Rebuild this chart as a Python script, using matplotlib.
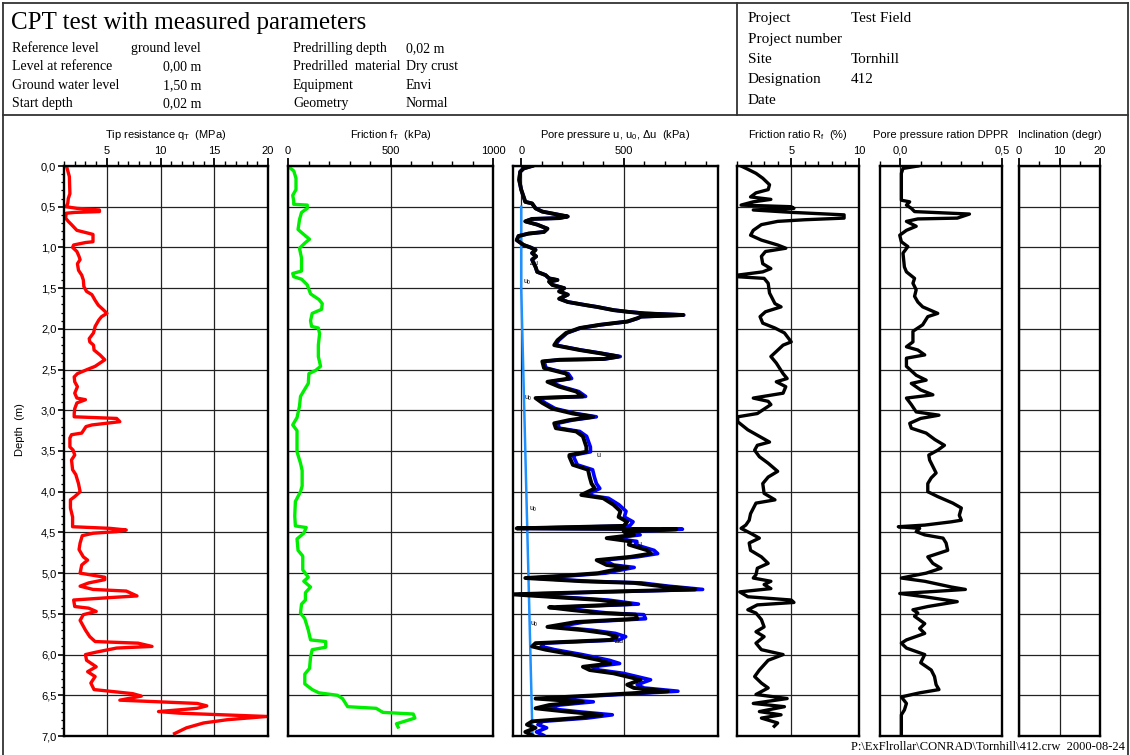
import numpy as np
import matplotlib
matplotlib.use("Agg")
import matplotlib.pyplot as plt
from matplotlib.lines import Line2D
from matplotlib.ticker import MultipleLocator, FixedLocator, FuncFormatter

plt.rcParams['font.family'] = ['Liberation Sans', 'DejaVu Sans']
plt.rcParams['mathtext.fontset'] = 'custom'
plt.rcParams['mathtext.rm'] = 'Liberation Sans'
plt.rcParams['mathtext.it'] = 'Liberation Sans:italic'
plt.rcParams['mathtext.bf'] = 'Liberation Sans:bold'

# ---------------- header data ----------------
title = "CPT test with measured parameters"
info_labels_1 = ["Reference level", "Level at reference", "Ground water level", "Start depth"]
info_values_1 = ["ground level", "0,00 m", "1,50 m", "0,02 m"]
info_labels_2 = ["Predrilling depth", "Predrilled  material", "Equipment", "Geometry"]
info_values_2 = ["0,02 m", "Dry crust", "Envi", "Normal"]
proj_labels = ["Project", "Project number", "Site", "Designation", "Date"]
proj_values = ["Test Field", "", "Tornhill", "412", ""]
footer = "P:\\ExFlrollar\\CONRAD\\Tornhill\\412.crw  2000-08-24"

# ---------------- measured profiles (depth m, value) ----------------
tip_qt = [(0.01,1.25),(0.13,1.5),(0.34,1.55),(0.40,1.4),(0.46,1.35),(0.50,1.2),(0.52,2.2),(0.54,4.3),(0.56,4.3),
          (0.57,2.0),(0.58,1.2),(0.64,1.15),(0.68,1.4),(0.72,1.7),(0.79,2.2),(0.82,3.1),(0.84,3.7),(0.93,3.7),
          (0.94,3.0),(0.97,1.9),(1.00,1.8),(1.05,2.2),(1.11,2.4),(1.15,2.5),(1.20,2.25),(1.28,2.35),(1.34,2.65),
          (1.40,2.8),(1.48,2.85),(1.54,3.1),(1.58,3.6),(1.65,3.9),(1.71,4.2),(1.77,4.7),(1.81,5.0),(1.85,4.5),
          (1.89,4.25),(1.97,3.9),(2.05,3.75),(2.12,3.35),(2.16,3.4),(2.20,3.75),(2.26,3.8),(2.32,4.35),(2.38,4.8),
          (2.42,4.35),(2.46,3.9),(2.50,3.15),(2.55,2.25),(2.59,1.95),(2.65,2.0),(2.71,2.25),(2.79,2.0),(2.85,2.2),
          (2.87,3.0),(2.91,2.2),(2.98,2.0),(3.04,1.95),(3.08,1.95),(3.10,5.9),(3.14,6.2),(3.18,3.6),(3.20,3.05),
          (3.28,2.65),(3.30,1.7),(3.34,1.55),(3.45,1.55),(3.49,1.85),(3.55,2.0),(3.61,1.7),(3.73,1.8),(3.79,2.1),
          (3.90,2.35),(4.00,2.5),(4.06,2.0),(4.10,1.6),(4.20,1.6),(4.31,1.8),(4.43,1.8),(4.45,5.3),(4.47,6.8),
          (4.49,5.9),(4.51,3.7),(4.54,2.7),(4.63,2.5),(4.71,2.4),(4.80,2.8),(4.84,3.2),(4.90,2.65),(5.00,2.5),
          (5.05,4.8),(5.08,4.8),(5.12,3.3),(5.16,2.5),(5.20,3.7),(5.22,6.8),(5.28,7.8),(5.30,5.3),(5.33,1.9),
          (5.41,2.0),(5.43,3.3),(5.47,4.0),(5.51,2.8),(5.58,2.5),(5.70,3.0),(5.78,3.4),(5.84,3.9),(5.86,7.9),
          (5.90,9.2),(5.92,5.9),(5.97,4.0),(6.00,3.0),(6.07,3.1),(6.15,4.0),(6.21,3.2),(6.27,3.9),(6.35,3.5),
          (6.43,3.8),(6.48,7.4),(6.51,8.2),(6.56,6.2),(6.60,13.4),(6.63,14.3),(6.66,13.4),(6.70,9.8),(6.72,11.8),
          (6.76,19.9),(6.80,16.2),(6.84,14.0),(6.90,12.4),(6.97,11.3)]

friction_ft = [(0.01,3),(0.06,28),(0.15,39),(0.29,39),(0.36,23),(0.43,28),(0.47,28),(0.48,94),(0.52,94),(0.57,66),
               (0.66,56),(0.78,49),(0.83,72),(0.90,105),(0.94,85),(1.01,56),(1.13,66),(1.29,66),(1.32,23),(1.36,28),
               (1.39,66),(1.46,94),(1.57,110),(1.64,151),(1.69,167),(1.76,164),(1.81,118),(1.90,110),(1.97,115),
               (1.99,148),(2.06,154),(2.20,148),(2.34,148),(2.46,159),(2.51,135),(2.55,102),(2.67,99),(2.74,82),
               (2.83,61),(2.95,56),(3.09,44),(3.18,23),(3.25,44),(3.37,44),(3.51,44),(3.65,61),(3.74,69),(3.93,69),
               (4.00,61),(4.12,36),(4.30,33),(4.42,36),(4.44,89),(4.51,77),(4.58,44),(4.72,49),(4.79,72),(4.96,72),
               (5.05,99),(5.10,77),(5.17,110),(5.24,85),(5.33,85),(5.38,66),(5.49,61),(5.56,82),(5.70,99),(5.82,110),
               (5.84,184),(5.91,184),(5.94,118),(6.03,110),(6.17,105),(6.24,82),(6.36,82),(6.43,118),(6.47,151),
               (6.50,241),(6.54,266),(6.64,291),(6.66,430),(6.71,463),(6.73,611),(6.78,619),(6.85,529),(6.89,537)]

excess_pore_du = [(0.00,53),(0.03,12),(0.07,-5),(0.17,-10),(0.29,0),(0.38,12),(0.44,20),(0.46,53),(0.52,70),
                  (0.56,103),(0.60,185),(0.62,227),(0.64,185),(0.65,53),(0.68,20),(0.72,78),(0.77,128),(0.81,111),
                  (0.83,36),(0.86,-13),(0.91,-22),(0.97,12),(1.00,45),(1.03,70),(1.07,53),(1.11,73),(1.15,53),
                  (1.24,70),(1.30,78),(1.34,119),(1.38,136),(1.40,177),(1.42,136),(1.46,152),(1.50,210),(1.54,185),
                  (1.58,227),(1.63,185),(1.67,227),(1.71,318),(1.73,368),(1.77,450),(1.79,517),(1.81,600),(1.83,790),
                  (1.85,583),(1.87,566),(1.91,517),(1.95,384),(1.99,285),(2.05,219),(2.14,177),(2.20,161),(2.26,285),
                  (2.30,384),(2.34,475),(2.37,400),(2.38,185),(2.40,103),(2.48,111),(2.55,219),(2.61,235),(2.65,128),
                  (2.71,185),(2.77,268),(2.83,301),(2.85,70),(2.91,103),(2.98,152),(3.04,252),(3.08,351),(3.12,235),
                  (3.16,161),(3.22,169),(3.26,268),(3.32,301),(3.39,310),(3.45,318),(3.51,318),(3.55,235),(3.57,235),
                  (3.67,252),(3.73,326),(3.82,334),(3.90,343),(3.96,359),(4.04,293),(4.08,400),(4.16,450),(4.24,484),
                  (4.31,475),(4.37,517),(4.42,500),(4.45,-22),(4.46,757),(4.49,500),(4.53,550),(4.57,417),(4.61,533),
                  (4.65,525),(4.72,616),(4.76,633),(4.80,533),(4.84,368),(4.90,417),(4.93,517),(4.97,434),(5.00,376),
                  (5.03,219),(5.06,20),(5.10,301),(5.12,550),(5.16,682),(5.20,848),(5.23,384),(5.26,-46),(5.29,136),
                  (5.33,384),(5.38,533),(5.42,136),(5.45,235),(5.49,384),(5.51,558),(5.56,566),(5.60,268),(5.66,128),
                  (5.70,301),(5.74,417),(5.78,467),(5.82,434),(5.86,70),(5.90,53),(5.94,119),(6.00,252),(6.07,384),
                  (6.11,434),(6.15,301),(6.19,334),(6.23,450),(6.27,517),(6.31,583),(6.37,517),(6.41,550),(6.45,715),
                  (6.49,434),(6.54,70),(6.58,301),(6.62,136),(6.66,70),(6.70,219),(6.74,392),(6.78,268),(6.82,53),
                  (6.86,28),(6.90,70),(6.95,20),(6.99,53)]

hydrostatic_u0 = [(0.5,0),(1.5,0),(7.0,55)]

friction_ratio_rf = [(0.00,1.3),(0.04,1.8),(0.09,2.4),(0.15,2.9),(0.23,3.4),(0.29,3.3),(0.33,2.4),(0.38,2.0),(0.41,3.5),
                     (0.44,2.2),(0.48,1.3),(0.50,5.0),(0.52,5.2),(0.54,2.2),(0.57,5.1),(0.60,8.9),(0.64,8.9),(0.66,6.0),
                     (0.68,4.0),(0.72,2.8),(0.79,2.2),(0.85,2.0),(0.91,2.8),(0.97,4.0),(1.01,4.6),(1.05,3.1),(1.11,2.8),
                     (1.20,2.9),(1.26,3.5),(1.30,2.9),(1.34,1.05),(1.36,1.05),(1.38,3.0),(1.44,3.3),(1.56,3.4),(1.69,3.8),
                     (1.73,4.25),(1.79,3.1),(1.85,2.7),(1.93,2.9),(1.99,3.8),(2.05,4.5),(2.16,5.0),(2.20,4.4),(2.34,3.5),
                     (2.42,3.9),(2.55,4.4),(2.61,4.7),(2.65,3.9),(2.71,4.6),(2.79,4.4),(2.85,2.2),(2.89,3.3),(2.93,3.5),
                     (3.04,2.5),(3.08,1.05),(3.14,1.05),(3.24,1.8),(3.32,2.65),(3.39,3.4),(3.43,2.5),(3.49,2.3),(3.57,2.65),
                     (3.65,3.3),(3.75,4.0),(3.82,3.3),(3.90,2.9),(4.02,3.0),(4.10,3.8),(4.14,2.4),(4.27,2.0),(4.35,1.9),
                     (4.41,1.65),(4.45,1.3),(4.51,2.0),(4.57,2.65),(4.63,1.9),(4.72,2.0),(4.80,2.8),(4.88,3.3),(4.94,2.5),
                     (5.02,2.4),(5.06,2.2),(5.10,3.5),(5.14,3.0),(5.19,3.5),(5.23,1.2),(5.29,1.8),(5.33,5.0),(5.36,5.2),
                     (5.39,2.5),(5.45,1.8),(5.49,2.4),(5.57,2.8),(5.66,3.0),(5.72,2.4),(5.78,3.0),(5.86,2.4),(5.94,2.8),
                     (6.00,4.4),(6.07,3.3),(6.19,2.65),(6.27,2.3),(6.35,2.8),(6.41,3.3),(6.49,2.4),(6.54,4.7),(6.60,2.2),
                     (6.64,4.5),(6.70,2.65),(6.74,4.25),(6.78,2.8),(6.84,4.0),(6.88,3.75)]

dppr = [(0.00,0.086),(0.03,0.013),(0.09,0.005),(0.25,0.005),(0.42,0.005),(0.44,0.046),(0.48,0.03),(0.52,0.054),
        (0.56,0.07),(0.59,0.34),(0.64,0.28),(0.65,0.086),(0.68,0.03),(0.74,0.078),(0.79,0.03),(0.85,-0.003),
        (0.93,0.005),(0.99,0.037),(1.07,0.013),(1.24,0.02),(1.30,0.03),(1.38,0.07),(1.44,0.062),(1.52,0.078),
        (1.60,0.07),(1.67,0.086),(1.73,0.11),(1.81,0.184),(1.85,0.135),(1.95,0.11),(2.03,0.062),(2.16,0.062),
        (2.22,0.03),(2.26,0.086),(2.32,0.12),(2.36,0.03),(2.46,0.03),(2.57,0.078),(2.63,0.127),(2.67,0.054),
        (2.75,0.1),(2.81,0.16),(2.85,0.03),(2.93,0.054),(3.02,0.078),(3.06,0.19),(3.10,0.1),(3.16,0.046),
        (3.22,0.054),(3.28,0.127),(3.36,0.17),(3.43,0.217),(3.49,0.184),(3.55,0.14),(3.61,0.144),(3.69,0.16),
        (3.77,0.176),(3.83,0.152),(3.90,0.135),(4.00,0.135),(4.06,0.184),(4.14,0.258),(4.20,0.3),(4.29,0.29),
        (4.35,0.3),(4.37,0.25),(4.41,0.12),(4.43,-0.01),(4.45,0.095),(4.49,0.078),(4.53,0.12),(4.57,0.21),
        (4.63,0.225),(4.72,0.233),(4.80,0.135),(4.88,0.16),(4.94,0.2),(5.00,0.127),(5.06,0.005),(5.10,0.12),
        (5.17,0.25),(5.20,0.32),(5.23,0.135),(5.25,-0.003),(5.29,0.12),(5.35,0.28),(5.41,0.135),(5.45,0.062),
        (5.49,0.086),(5.53,0.07),(5.62,0.12),(5.68,0.095),(5.74,0.12),(5.82,0.03),(5.86,0.005),(5.92,0.03),
        (6.00,0.12),(6.10,0.1),(6.19,0.152),(6.27,0.168),(6.37,0.176),(6.43,0.19),(6.47,0.095),(6.52,0.005),
        (6.60,0.03),(6.68,0.02),(6.74,0.005),(7.00,0.005)]

# curve labels in the pore pressure panel: (text, value kPa, depth m)
pore_labels = [(r"$\Delta$u", 40, 1.19), ("u$_0$", 10, 1.43), ("u$_0$", 15, 2.85), ("u", 365, 3.55),
               ("u$_0$", 40, 4.22), ("u", 565, 4.65), ("u$_0$", 45, 5.63), (r"$\Delta$u", 455, 5.83)]

# ---------------- figure ----------------
W, H = 1130, 755
fig = plt.figure(figsize=(W/100, H/100), dpi=100)
fig.patch.set_facecolor('white')

def fx(x): return x / W
def fy(y): return 1 - y / H

# frame and header lines
line_kw = dict(transform=fig.transFigure, color='#333333', lw=1.3)
fig.add_artist(Line2D([fx(3), fx(3)], [fy(3), fy(755)], **line_kw))
fig.add_artist(Line2D([fx(1128), fx(1128)], [fy(3), fy(755)], **line_kw))
fig.add_artist(Line2D([fx(3), fx(1128)], [fy(3), fy(3)], **line_kw))
fig.add_artist(Line2D([fx(3), fx(1128)], [fy(115), fy(115)], **line_kw))
fig.add_artist(Line2D([fx(737), fx(737)], [fy(3), fy(115)], **line_kw))

serif = ['Liberation Serif', 'DejaVu Serif']
fig.text(fx(11), fy(29), title, family=serif, fontsize=18, va='baseline', ha='left')
rows_base = [52, 70, 89, 107]
for lab, val, yy in zip(info_labels_1, info_values_1, rows_base):
    fig.text(fx(12), fy(yy), lab, family=serif, fontsize=10, va='baseline')
    fig.text(fx(201), fy(yy), val, family=serif, fontsize=10, va='baseline', ha='right')
for lab, val, yy in zip(info_labels_2, info_values_2, rows_base):
    fig.text(fx(293), fy(yy), lab, family=serif, fontsize=10, va='baseline')
    fig.text(fx(406), fy(yy), val, family=serif, fontsize=10, va='baseline')
for lab, val, yy in zip(proj_labels, proj_values, [22, 43, 63, 83, 104]):
    fig.text(fx(748), fy(yy), lab, family=serif, fontsize=11, va='baseline')
    fig.text(fx(851), fy(yy), val, family=serif, fontsize=11, va='baseline')
fig.text(fx(851), fy(753), footer, family=serif, fontsize=9, va='bottom', ha='left')

fig.text(fx(20), fy(430), "Depth  (m)", rotation=90, fontsize=8, ha='center', va='center')

TOP, BOT = 166, 736

def comma1(v, p):
    return f"{v:.1f}".replace('.', ',')

def intfmt(v, p):
    return f"{v:.0f}"

def make_panel(l, r, xlim, major, minor, fmt, label):
    ax = fig.add_axes([fx(l), fy(BOT), (r - l) / W, (BOT - TOP) / H])
    ax.set_xlim(*xlim)
    ax.set_ylim(7.0, 0.0)
    ax.xaxis.tick_top()
    ax.xaxis.set_major_locator(FixedLocator(major))
    ax.xaxis.set_minor_locator(MultipleLocator(minor))
    ax.xaxis.set_major_formatter(FuncFormatter(fmt))
    ax.yaxis.set_major_locator(MultipleLocator(0.5))
    ax.yaxis.set_minor_locator(MultipleLocator(0.1))
    ax.tick_params(axis='x', which='major', length=6, width=1.3, pad=1.5, labelsize=8, direction='out')
    ax.tick_params(axis='x', which='minor', length=3.5, width=1.0, direction='out')
    ax.tick_params(axis='y', which='both', left=False, right=False, labelleft=False)
    ax.grid(True, which='major', color='#222222', lw=0.9)
    for s in ax.spines.values():
        s.set_linewidth(1.7)
    ax.text(0.5, 1 + 31 / (BOT - TOP), label, transform=ax.transAxes, ha='center', va='center', fontsize=8)
    return ax

ax1 = make_panel(64, 268, (1, 20), [5, 10, 15, 20], 1, intfmt, r"Tip resistance q$_\mathrm{T}$  (MPa)")
ax1.tick_params(axis='y', which='major', left=True, labelleft=True, length=4.5, width=1.2, pad=1, labelsize=8)
ax1.tick_params(axis='y', which='minor', left=True, length=2.2, width=0.9)
ax1.yaxis.set_major_formatter(FuncFormatter(comma1))
d, v = np.array(tip_qt).T
ax1.plot(v, d, color='#ff0000', lw=2.4)

ax2 = make_panel(288, 493, (0, 1000), [0, 500, 1000], 100, intfmt, r"Friction f$_\mathrm{T}$  (kPa)")
d, v = np.array(friction_ft).T
ax2.plot(v, d, color='#00ee00', lw=2.4)

ax3 = make_panel(513, 718, (-40, 960), [0, 500], 100, intfmt, r"Pore pressure u, u$_0$, $\Delta$u  (kPa)")
d0, u0 = np.array(hydrostatic_u0).T
d, du = np.array(excess_pore_du).T
u_meas = du + np.interp(d, d0, u0, left=0)
ax3.plot(u0, d0, color='#1e90ff', lw=1.8)
ax3.plot(u_meas, d, color='#0000ff', lw=2.6)
ax3.plot(du, d, color='black', lw=2.8)
for txt, xv, dv in pore_labels:
    ax3.text(xv, dv, txt, fontsize=5, ha='left', va='center')

ax4 = make_panel(737, 859, (1, 10), [5, 10], 1, intfmt, r"Friction ratio R$_\mathrm{f}$  (%)")
d, v = np.array(friction_ratio_rf).T
ax4.plot(v, d, color='black', lw=2.4)

ax5 = make_panel(880, 1002, (-0.1, 0.5), [0.0, 0.5], 0.1, comma1, "Pore pressure ration DPPR")
d, v = np.array(dppr).T
ax5.plot(v, d, color='black', lw=2.4)

ax6 = make_panel(1019, 1100, (0, 20), [0, 10, 20], 5, intfmt, "Inclination (degr)")

fig.savefig("out.png", dpi=100)
